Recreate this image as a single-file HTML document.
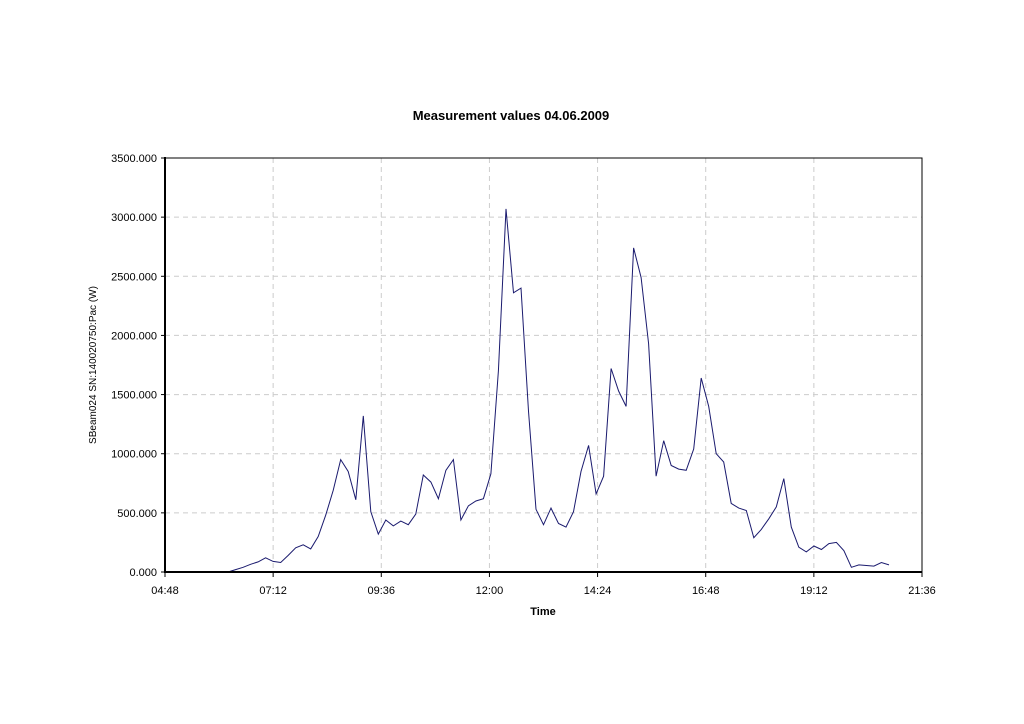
<!DOCTYPE html>
<html><head><meta charset="utf-8"><style>
html,body{margin:0;padding:0;background:#fff;}
svg{display:block;font-family:"Liberation Sans",Arial,sans-serif;}
</style></head><body>
<svg id="chart" width="1024" height="724" viewBox="0 0 1024 724">
<rect width="1024" height="724" fill="#fff"/>
<text x="511" y="120" text-anchor="middle" font-size="13" font-weight="bold">Measurement values 04.06.2009</text>
<g id="grid"></g>
<g id="yticks"></g>
<g id="xticks"></g>
<polyline id="series" fill="none" stroke="#1a1a6e" stroke-width="1"/>
<rect x="165" y="158" width="757" height="414" fill="none" stroke="#000" stroke-width="1"/>
<line x1="165" y1="157" x2="165" y2="573" stroke="#000" stroke-width="2"/>
<line x1="164" y1="572" x2="922" y2="572" stroke="#000" stroke-width="2"/>
<text x="543" y="615" text-anchor="middle" font-size="11" font-weight="bold">Time</text>
<text transform="translate(96,365) rotate(-90)" text-anchor="middle" font-size="10">SBeam024 SN:140020750:Pac (W)</text>
</svg>
<script>
const times=["06:12","06:22","06:32","06:42","06:52","07:02","07:12","07:22","07:32","07:42",
"07:52","08:02","08:12","08:22","08:32","08:42","08:52","09:02","09:12","09:22",
"09:32","09:42","09:52","10:02","10:12","10:22","10:32","10:42","10:52","11:02",
"11:12","11:22","11:32","11:42","11:52","12:02","12:12","12:22","12:32","12:42",
"12:52","13:02","13:12","13:22","13:32","13:42","13:52","14:02","14:12","14:22",
"14:32","14:42","14:52","15:02","15:12","15:22","15:32","15:42","15:52","16:02",
"16:12","16:22","16:32","16:42","16:52","17:02","17:12","17:22","17:32","17:42",
"17:52","18:02","18:12","18:22","18:32","18:42","18:52","19:02","19:12","19:22",
"19:32","19:42","19:52","20:02","20:12","20:22","20:32","20:42","20:52"];
const pac=[0,20,40,65,85,120,90,80,140,205,230,195,300,480,690,950,850,610,1320,510,
320,440,390,430,400,490,820,760,620,860,950,440,560,600,620,830,1700,3070,2360,2400,
1360,530,400,540,410,380,510,850,1070,660,810,1720,1530,1400,2740,2490,1930,810,1110,900,
870,860,1040,1640,1400,1000,930,580,540,520,290,360,450,550,790,380,210,170,220,190,
240,250,180,40,60,55,50,80,60];
const yTicks=[0,500,1000,1500,2000,2500,3000,3500];
const xTicks=["04:48","07:12","09:36","12:00","14:24","16:48","19:12","21:36"];
const NS="http://www.w3.org/2000/svg";
const X0=165,X1=922,Y0=572,Y1=158,TMIN=4*60+48,TMAX=21*60+36,VMAX=3500;
function mins(s){const p=s.split(":");return +p[0]*60+ +p[1];}
function xs(t){return X0+(mins(t)-TMIN)/(TMAX-TMIN)*(X1-X0);}
function ys(v){return Y0-v/VMAX*(Y0-Y1);}
function mk(tag,attrs,parent){const e=document.createElementNS(NS,tag);for(const k in attrs)e.setAttribute(k,attrs[k]);parent.appendChild(e);return e;}
const grid=document.getElementById("grid"),yt=document.getElementById("yticks"),xt=document.getElementById("xticks");
yTicks.forEach(v=>{const y=ys(v);
 if(v>0&&v<VMAX){const g=mk("line",{x1:X0,x2:X1,y1:y,y2:y,stroke:"#ccc","stroke-dasharray":"5,4"},grid);
 
 }
 const tk=mk("line",{x1:X0-4,x2:X0,y1:y,y2:y,stroke:"#000"},yt);
 
 
 const t=mk("text",{x:X0-8,y:y+4,"text-anchor":"end","font-size":"11"},yt);t.textContent=v.toFixed(3);
 
 
});
xTicks.forEach(s=>{const x=xs(s);
 if(x>X0+1&&x<X1-1){const g=mk("line",{x1:x,x2:x,y1:Y1,y2:Y0,stroke:"#ccc","stroke-dasharray":"5,4"},grid);
 
 }
 const tk=mk("line",{x1:x,x2:x,y1:Y0,y2:Y0+5,stroke:"#000"},xt);
 
 
 const t=mk("text",{x:x,y:Y0+22,"text-anchor":"middle","font-size":"11"},xt);t.textContent=s;
 
 
});
document.getElementById("series").setAttribute("points",times.map((t,i)=>xs(t).toFixed(1)+","+ys(pac[i]).toFixed(1)).join(" "));
</script>
</body></html>
